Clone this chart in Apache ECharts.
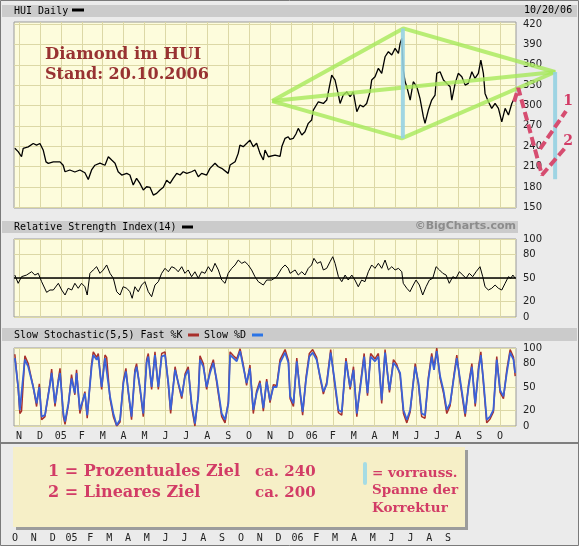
<!DOCTYPE html>
<html><head><meta charset="utf-8">
<script src="https://cdn.jsdelivr.net/npm/echarts@6/dist/echarts.min.js"></script>
<style>html,body{margin:0;padding:0;background:#ebebeb}#c{width:579px;height:546px}</style>
</head><body><div id="c"></div><script>
// ---- data (x = months since 1 Nov 2004) ----
var monthLabels = ['N','D','05','F','M','A','M','J','J','A','S','O','N','D','06','F','M','A','M','J','J','A','S','O'];
var overlayLabels = ['O','N','D','05','F','M','A','M','J','J','A','S','O','N','D','06','F','M','A','M','J','J','A','S'];
var priceTicks = [150,180,210,240,270,300,330,360,390,420];
var oscTicks = [0,20,50,80,100];

var price = [[-0.2,237],[-0.04,232],[0.12,224.5],[0.2,237],[0.44,239],[0.68,244],[0.84,241.7],[1.0,244],[1.16,234],[1.29,217],[1.4,214.8],[1.64,217],[1.96,217],[2.11,212],[2.2,202.4],[2.43,205],[2.67,202],[2.91,205],[3.15,201],[3.31,191],[3.47,205],[3.63,212],[3.87,215],[4.11,212],[4.27,224.5],[4.43,219.7],[4.59,215],[4.74,202.4],[4.91,197.6],[5.15,200],[5.3,197.6],[5.46,183],[5.62,192.7],[5.78,185.3],[5.94,175.5],[6.1,180.3],[6.26,179.5],[6.42,168],[6.58,170.6],[6.74,175.5],[6.9,179.5],[7.06,190],[7.22,185.3],[7.37,192.7],[7.54,200],[7.7,197.6],[7.85,202.4],[8.02,200],[8.25,202.4],[8.41,205],[8.57,195],[8.73,200],[8.97,197.6],[9.13,207.4],[9.37,215],[9.53,209.8],[9.69,207.4],[10.0,200],[10.09,212.3],[10.33,217.2],[10.48,229.5],[10.56,241.7],[10.72,239.3],[10.89,244.3],[11.04,249],[11.2,239.3],[11.36,244.3],[11.52,229.5],[11.68,219.7],[11.76,234.4],[11.92,224.5],[12.0,224.5],[12.24,227],[12.48,225],[12.57,240],[12.72,251.6],[12.87,254],[12.95,250],[13.11,251.6],[13.24,258],[13.35,266.3],[13.52,256.5],[13.67,261.3],[13.83,273.7],[13.99,278.6],[14.07,293.3],[14.31,305.5],[14.55,303],[14.71,308],[14.79,320],[14.95,344.8],[15.11,337.5],[15.27,315.4],[15.35,303],[15.5,315.4],[15.67,320],[15.83,313],[15.98,320],[16.15,290.8],[16.3,300.7],[16.46,298],[16.62,303],[16.78,320],[16.86,337.5],[17.02,342.4],[17.18,354.7],[17.34,347.4],[17.5,371.8],[17.66,379.2],[17.82,374.3],[17.98,384.2],[18.14,376.8],[18.22,391.5],[18.3,398.9],[18.37,352.2],[18.46,335],[18.54,327.6],[18.7,308],[18.85,335],[19.02,327.6],[19.17,310.5],[19.33,283.5],[19.41,273.7],[19.57,293.3],[19.73,308],[19.89,315.4],[19.97,347.4],[20.13,349.7],[20.29,337.5],[20.45,332.6],[20.61,327.6],[20.69,308],[20.85,332.6],[21.0,347.4],[21.17,342.4],[21.33,330],[21.48,332.6],[21.65,349.7],[21.8,339.9],[21.96,347.4],[22.08,367],[22.2,347.4],[22.28,317.8],[22.44,305.5],[22.6,295.8],[22.76,303],[22.92,295.8],[23.08,276],[23.24,295.8],[23.4,286],[23.56,303],[23.64,308]];

var rsi = [[-0.2,53.8],[-0.04,43.2],[0.12,51.7],[0.36,53.8],[0.6,58],[0.76,53.8],[0.92,56],[1.08,45.3],[1.32,31.6],[1.48,34.6],[1.64,34.6],[1.88,43.2],[2.04,34.6],[2.2,28.2],[2.35,36.8],[2.52,34.6],[2.67,43.2],[2.83,36.8],[2.99,43.2],[3.15,38.8],[3.26,28.2],[3.39,56],[3.55,60.3],[3.71,64.5],[3.87,56],[4.03,60.3],[4.19,66.7],[4.35,56],[4.51,49.6],[4.67,32.4],[4.83,28.2],[4.98,38.8],[5.15,36.8],[5.3,32.4],[5.41,24],[5.54,38.8],[5.7,32.4],[5.86,41],[6.02,45.3],[6.18,32.4],[6.34,26],[6.5,41],[6.66,45.3],[6.82,56],[6.98,62.4],[7.14,58],[7.3,64.5],[7.46,62.4],[7.61,58],[7.78,64.5],[7.93,56],[8.09,60.3],[8.25,51.7],[8.41,58],[8.57,49.6],[8.73,58],[8.89,56],[9.05,64.5],[9.21,58],[9.37,68.8],[9.53,60.3],[9.69,47.4],[9.85,43.2],[10.0,56],[10.17,62.4],[10.33,66.7],[10.48,73],[10.65,68.8],[10.8,70.9],[10.96,66.7],[11.12,60.3],[11.28,51.7],[11.44,45.3],[11.68,41],[11.84,47.4],[12.08,47.4],[12.32,51.7],[12.56,62.4],[12.72,66.7],[12.87,62.4],[12.96,56],[13.2,60.3],[13.35,53.8],[13.52,58],[13.67,53.8],[13.83,62.4],[13.99,66.7],[14.1,75.2],[14.26,68.8],[14.42,70.9],[14.55,60.3],[14.71,62.4],[14.87,70.9],[15.0,77.3],[15.11,68.8],[15.27,51.7],[15.43,45.3],[15.59,53.8],[15.74,47.4],[15.91,53.8],[16.06,47.4],[16.22,38.8],[16.38,47.4],[16.54,45.3],[16.7,58],[16.86,66.7],[17.02,62.4],[17.18,68.8],[17.34,62.4],[17.5,73],[17.66,60.3],[17.82,64.5],[17.98,60.3],[18.14,62.4],[18.3,58],[18.37,43.2],[18.54,36.8],[18.69,32.4],[18.85,41],[18.98,47.4],[19.14,41],[19.3,28.2],[19.46,38.8],[19.62,47.4],[19.78,49.6],[19.94,64.5],[20.1,60.3],[20.26,56],[20.42,53.8],[20.57,43.2],[20.74,51.7],[20.89,49.6],[21.05,58],[21.22,53.8],[21.37,49.6],[21.53,56],[21.69,51.7],[21.85,58],[22.04,64.5],[22.17,51.7],[22.28,38.8],[22.44,34.6],[22.6,36.8],[22.76,41],[22.92,36.8],[23.08,34.6],[23.24,43.2],[23.4,51.7],[23.51,49.6],[23.61,53.8],[23.72,49.6]];

var stochT = [-0.2,-0.04,0.04,0.12,0.28,0.44,0.68,0.84,0.97,1.08,
1.24,1.48,1.56,1.72,1.88,1.96,2.12,2.2,2.36,2.51,
2.67,2.75,2.91,3.15,3.26,3.47,3.55,3.71,3.79,3.95,
4.11,4.19,4.35,4.51,4.67,4.83,4.99,5.11,5.22,5.38,
5.54,5.62,5.78,5.94,6.1,6.18,6.34,6.5,6.66,6.82,
6.98,7.14,7.25,7.46,7.62,7.78,7.94,8.09,8.25,8.41,
8.57,8.65,8.81,8.97,9.13,9.29,9.45,9.69,9.85,10.01,
10.09,10.25,10.41,10.57,10.72,10.88,11.04,11.2,11.36,11.52,
11.68,11.84,12.0,12.16,12.32,12.48,12.72,12.88,12.96,13.12,
13.28,13.43,13.56,13.72,13.88,14.04,14.23,14.39,14.55,14.71,
14.9,15.06,15.27,15.43,15.63,15.83,15.99,16.15,16.3,16.5,
16.66,16.81,17.02,17.18,17.34,17.5,17.71,17.9,18.06,18.22,
18.38,18.54,18.7,18.94,19.1,19.25,19.41,19.57,19.73,19.84,
19.97,20.13,20.29,20.45,20.61,20.8,20.93,21.09,21.33,21.49,
21.65,21.81,21.97,22.08,22.2,22.36,22.52,22.68,22.84,23.0,
23.16,23.32,23.48,23.64,23.72];
var slowD = [87,50,20.6,22.7,85,76,50,29,50,12,
14,53,68,29,57,68,16,5.6,29,61,
42,68,20.6,42,14,76,91,85,89,50,
87,85,38,16,1,8,55,70,46,12,
68,76,50,16,81,89,50,91,50,89,
91,55,20.6,72,55,38,64,72,29,3,
38,85,76,50,68,81,59,16,8,29,
91,87,83,96,76,55,74,20.6,42,55,
23,57,33,50,50,81,94,81,38,29,
83,46,18,59,89,94,85,64,44,53,
94,64,20.6,18,83,50,72,16,46,89,
42,89,83,89,33,94,46,81,76,68,
20.6,8,20.6,76,55,16,14,59,89,72,
96,64,46,20.6,29,64,87,59,16,50,
76,29,72,91,59,8,12,20.6,85,46,
38,68,94,85,68];
var fastK = [92,48,16,19,90,80,50,25,54,8,
12,55,73,25,60,74,12,2,27,66,
40,72,16,44,10,80,95,88,93,47,
91,88,35,12,0,5,58,74,44,8,
72,80,48,12,85,93,47,95,47,93,
95,52,16,76,53,35,67,76,25,0,
40,90,80,47,72,85,56,12,4,32,
95,90,86,99,79,52,78,16,45,58,
19,60,30,53,52,85,98,84,35,25,
87,44,14,62,93,98,88,62,41,56,
98,61,17,14,87,47,76,12,49,93,
39,93,86,93,29,98,43,85,79,65,
16,4,18,80,52,12,10,62,93,75,
100,61,43,16,26,67,91,56,12,53,
80,25,76,95,56,4,9,18,89,43,
35,72,98,88,64];

// annotation vertices in (months, HUI) units
var diamond = [[12.1,306.5],[18.37,413.6],[25.63,349.3],[18.3,251.6],[12.1,306.5]];
var diamondMid = [[12.1,306.5],[25.63,349.3]];
var span1 = [[18.35,413.6],[18.35,251.6]];
var span2 = [[25.63,349.3],[25.63,191.4]];
var path2 = [[23.67,305.6],[23.87,325.7],[25.0,197.6],[26.1,237.3]];
var path1 = [[24.91,236],[26.15,291.8]];

// ---- chart ----
var idx = monthLabels.map(function(_, i){ return i; });
var oIdx = overlayLabels.map(function(_, i){ return i; });
var PLOT_BG = '#fdfcdc', GRID_C = '#dcd8a6', FRAME = '#9a9a9a';
function xAx(g, showLabel){
  return { type:'value', gridIndex:g, min:-0.24, max:23.76,
    axisLine:{show:false}, axisTick:{show:false, customValues: idx},
    axisLabel:{show:showLabel, customValues: idx, margin:5, color:'#222',
      fontFamily:'DejaVu Sans Mono', fontSize:10,
      formatter:function(v){ return monthLabels[Math.round(v)] || ''; }},
    splitLine:{show:true, lineStyle:{color:GRID_C, width:1}} };
}
function yAx(g, min, max, ticks){
  return { type:'value', gridIndex:g, position:'right', min:min, max:max,
    axisLine:{show:false}, axisTick:{show:false, customValues: ticks},
    axisLabel:{customValues: ticks, margin:7, color:'#222', fontFamily:'DejaVu Sans', fontSize:10},
    splitLine:{show:true, lineStyle:{color:GRID_C, width:1}} };
}
function txt(x, y, s, font, fill, align, z){
  return {type:'text', x:x, y:y, z:z||50, style:{text:s, font:font, fill:fill, align:align||'left', verticalAlign:'middle'}};
}
function rect(x, y, w, h, fill, z){
  return {type:'rect', shape:{x:x, y:y, width:w, height:h}, style:{fill:fill}, z:(z===undefined?-10:z)};
}
function anno(data, color, width, opacity, dash, z){
  return {type:'line', xAxisIndex:4, yAxisIndex:4, data:data, symbol:'none', clip:false, silent:true,
    lineStyle:{color:color, width:width, opacity:opacity, type:dash||'solid'}, z:z};
}
var mono = '10px "DejaVu Sans Mono"';
var serifB = function(px){ return 'bold ' + px + 'px "DejaVu Serif"'; };
var RED = '#d23c66';

var option = {
  animation:false,
  backgroundColor:'#ebebeb',
  grid:[
    {left:14, top:22, width:502, height:186, show:true, backgroundColor:PLOT_BG, borderColor:FRAME, borderWidth:1},
    {left:14, top:239, width:502, height:78, show:true, backgroundColor:PLOT_BG, borderColor:FRAME, borderWidth:1},
    {left:14, top:348, width:502, height:78, show:true, backgroundColor:PLOT_BG, borderColor:FRAME, borderWidth:1},
    {left:15, top:447, width:450, height:80, show:false},
    // same scale as the price panel, widened to the right edge for the annotations
    {left:14, top:22, width:565, height:186, show:false}
  ],
  xAxis:[ xAx(0,false), xAx(1,false), xAx(2,true),
    { type:'value', gridIndex:3, min:0, max:23.9,
      axisLine:{show:false}, axisTick:{show:false, customValues:oIdx}, splitLine:{show:false},
      axisLabel:{customValues:oIdx, margin:6, color:'#222', fontFamily:'DejaVu Sans Mono', fontSize:10,
        formatter:function(v){ return overlayLabels[Math.round(v)] || ''; }} },
    { type:'value', gridIndex:4, min:-0.24, max:26.772, show:false } ],
  yAxis:[ yAx(0,149,423,priceTicks), yAx(1,0,100,oscTicks), yAx(2,0,100,oscTicks),
    { type:'value', gridIndex:3, min:0, max:1, show:false },
    { type:'value', gridIndex:4, min:149, max:423, show:false } ],
  series:[
    {type:'line', name:'HUI', xAxisIndex:0, yAxisIndex:0, data:price, showSymbol:false, symbol:'none',
      lineStyle:{color:'#000', width:1.3}, z:3},
    anno(diamond, '#a6e85a', 4, 0.8, 'solid', 5),
    anno(diamondMid, '#a6e85a', 4, 0.8, 'solid', 5),
    anno(span1, '#96d2e2', 4, 0.9, 'solid', 6),
    anno(span2, '#96d2e2', 4, 0.9, 'solid', 6),
    anno(path2, '#d64d70', 4, 1, [9,4], 7),
    anno(path1, '#d64d70', 4, 1, [9,4], 7),
    {type:'line', name:'RSI', xAxisIndex:1, yAxisIndex:1, data:rsi, symbol:'none',
      lineStyle:{color:'#000', width:1}, z:3,
      markLine:{silent:true, symbol:'none', label:{show:false}, animation:false,
        lineStyle:{color:'#000', width:1.5, type:'solid'}, data:[{yAxis:50}]}},
    {type:'line', name:'Fast %K', xAxisIndex:2, yAxisIndex:2, symbol:'none',
      data:stochT.map(function(t,i){ return [t, fastK[i]]; }),
      lineStyle:{color:'#a8302c', width:1.5}, z:3},
    {type:'line', name:'Slow %D', xAxisIndex:2, yAxisIndex:2, symbol:'none',
      data:stochT.map(function(t,i){ return [t, slowD[i]]; }),
      lineStyle:{color:'#3a62d8', width:1.8}, z:4}
  ],
  graphic:{elements:[
    rect(2,5,575,12,'#cbcbcb'),
    rect(2,221,516,12,'#cbcbcb'),
    rect(2,328,575,13,'#cbcbcb'),
    txt(14,11,'HUI Daily',mono,'#000'),
    rect(72,8.5,12,3,'#000',50),
    txt(524,10,'10/20/06',mono,'#000'),
    txt(14,227,'Relative Strength Index(14)',mono,'#000'),
    rect(182,225.5,11,3,'#000',50),
    txt(516,226,'\u00A9BigCharts.com','bold 11px "DejaVu Sans"','#8c8c8c','right'),
    txt(14,335,'Slow Stochastic(5,5) Fast %K',mono,'#000'),
    rect(188,333.5,11,3,'#a8302c',50),
    txt(204,335,'Slow %D',mono,'#000'),
    rect(252,333.5,11,3,'#2b74e6',50),
    {type:'line', shape:{x1:0,y1:443,x2:579,y2:443}, style:{stroke:'#5a5a5a', lineWidth:1.5}, z:40},
    {type:'rect', shape:{x:0.5,y:0.5,width:578,height:545}, style:{fill:null, stroke:'#7a7a7a', lineWidth:1}, z:40},
    txt(45,55,'Diamond im HUI',serifB(16.5),'#983232','left',60),
    txt(45,75,'Stand: 20.10.2006',serifB(16),'#983232','left',60),
    txt(568,101,'1',serifB(14),RED,'center',60),
    txt(568,141,'2',serifB(14),RED,'center',60),
    rect(16,450,452,80,'#9c9c9c',20),
    rect(13,447,452,80,'#f6efc7',21),
    txt(48,472,'1 = Prozentuales Ziel',serifB(16),RED,'left',60),
    txt(48,493,'2 = Lineares Ziel',serifB(16),RED,'left',60),
    txt(255,472,'ca. 240',serifB(15),RED,'left',60),
    txt(255,493,'ca. 200',serifB(15),RED,'left',60),
    {type:'rect', shape:{x:363,y:462,width:4,height:23,r:2}, style:{fill:'#a6dce4'}, z:60},
    txt(372,473,'= vorrauss.',serifB(13.5),RED,'left',60),
    txt(372,490,'Spanne der',serifB(13.5),RED,'left',60),
    txt(372,508,'Korrektur',serifB(13.5),RED,'left',60)
  ]}
};
var chart = echarts.init(document.getElementById('c'), null, {renderer:'canvas'});
chart.setOption(option);
</script></body></html>
